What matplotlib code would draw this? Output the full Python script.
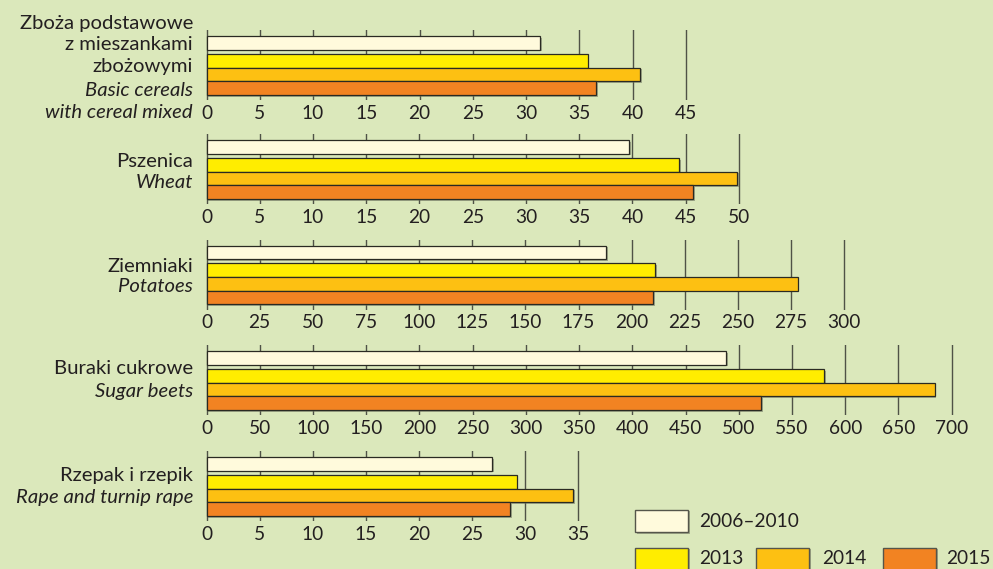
import matplotlib
matplotlib.use("Agg")
import matplotlib.pyplot as plt
from matplotlib.patches import Rectangle
import matplotlib.patheffects as pe

# ---- data ----
series = ["2006–2010", "2013", "2014", "2015"]
colors = ["#fffadc", "#ffed00", "#fdc012", "#f28322"]

cereals = [31.3, 35.8, 40.7, 36.6]
wheat = [39.7, 44.4, 49.8, 45.7]
potatoes = [188, 211, 278, 210]
sugar_beets = [488, 580, 684, 521]
rape = [26.9, 29.2, 34.5, 28.6]

ticks_cereals = [0, 5, 10, 15, 20, 25, 30, 35, 40, 45]
ticks_wheat = [0, 5, 10, 15, 20, 25, 30, 35, 40, 45, 50]
ticks_potatoes = [0, 25, 50, 75, 100, 125, 150, 175, 200, 225, 250, 275, 300]
ticks_beets = [0, 50, 100, 150, 200, 250, 300, 350, 400, 450, 500, 550, 600, 650, 700]
ticks_rape = [0, 5, 10, 15, 20, 25, 30, 35]

labels_pl = [["Zboża podstawowe", "z mieszankami", "zbożowymi"], ["Pszenica"], ["Ziemniaki"],
             ["Buraki cukrowe"], ["Rzepak i rzepik"]]
labels_en = [["Basic cereals", "with cereal mixed"], ["Wheat"], ["Potatoes"], ["Sugar beets"],
             ["Rape and turnip rape"]]

panels = [cereals, wheat, potatoes, sugar_beets, rape]
panel_ticks = [ticks_cereals, ticks_wheat, ticks_potatoes, ticks_beets, ticks_rape]

# ---- layout (pixels) ----
W, H = 993, 569
BG = "#dbe8bb"
TXT = "#231f20"
plt.rcParams['font.family'] = ['Lato', 'DejaVu Sans']
FS = 13.8
FS_LAB = 14.6

fig = plt.figure(figsize=(W / 100, H / 100), dpi=100, facecolor=BG)

x0_px = 206.5
px_per_unit = [10.65, 10.65, 2.126, 1.0646, 10.62]
panel_top = [30, 134, 239.5, 345, 451]
panel_h = 70
label_y = [[23, 45, 66, 90, 112], [161, 182], [266, 287], [368, 392], [475, 497]]
label_x = 193

ypos = [0, 1.3, 2.3, 3.3]
ylim = (4.17, -0.94)

shadow = [pe.SimplePatchShadow(offset=(1.2, -1.2), shadow_rgbFace="#6f7560", alpha=0.55), pe.Normal()]

for i, vals in enumerate(panels):
    ticks = panel_ticks[i]
    xmax = ticks[-1]
    pad = xmax * 0.01
    left = x0_px - pad * px_per_unit[i]
    width = (xmax + 2 * pad) * px_per_unit[i]
    ax = fig.add_axes([left / W, 1 - (panel_top[i] + panel_h) / H, width / W, panel_h / H])
    ax.set_facecolor("none")
    ax.set_xlim(-pad, xmax + pad)
    ax.set_ylim(*ylim)
    ax.set_xticks(ticks)
    ax.set_xticklabels([str(t) for t in ticks], fontsize=FS, color=TXT)
    ax.set_yticks([])
    ax.tick_params(axis='x', length=0, pad=3.5)
    for s in ax.spines.values():
        s.set_visible(False)
    ax.grid(axis='x', color="#4f5246", linewidth=1.0, zorder=0)
    ax.set_axisbelow(True)
    bars = ax.barh(ypos, vals, height=1.0, color=colors, edgecolor="#2a2a22", linewidth=0.9, zorder=3)
    for b in bars:
        b.set_path_effects(shadow)

    # category labels
    lines = labels_pl[i] + labels_en[i]
    styles = ["normal"] * len(labels_pl[i]) + ["italic"] * len(labels_en[i])
    for txt, st, yy in zip(lines, styles, label_y[i]):
        fig.text(label_x / W, 1 - yy / H, txt, ha="right", va="center", fontsize=FS_LAB,
                 style=st, color=TXT)

# ---- legend ----
leg_boxes = [(635, 509.5, 53, 22.5), (635, 547.5, 53, 22.5), (756, 547.5, 53, 22.5), (883, 547.5, 53, 22.5)]
leg_text = [(699, 521.5), (699, 559), (822, 559), (946, 559)]
for (bx, by, bw, bh), (tx, ty), c, s in zip(leg_boxes, leg_text, colors, series):
    r = Rectangle((bx / W, 1 - (by + bh) / H), bw / W, bh / H, transform=fig.transFigure,
                  facecolor=c, edgecolor="#55554a", linewidth=1.0)
    r.set_path_effects(shadow)
    fig.patches.append(r)
    fig.text(tx / W, 1 - ty / H, s, ha="left", va="center", fontsize=FS, color=TXT)

fig.savefig("out.png", dpi=100, facecolor=BG)
